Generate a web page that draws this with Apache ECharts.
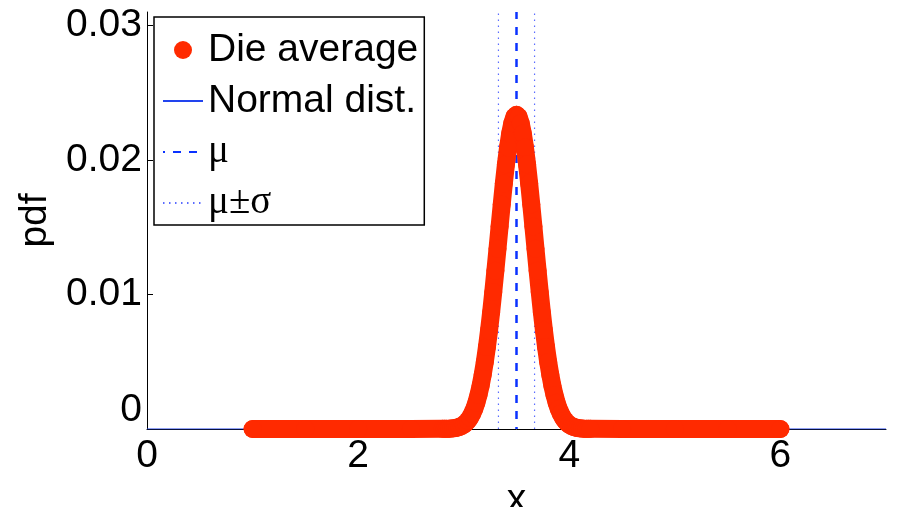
<!DOCTYPE html>
<html>
<head>
<meta charset="utf-8">
<script src="https://cdn.jsdelivr.net/npm/echarts@6/dist/echarts.min.js"></script>
<style>
  html, body { margin: 0; padding: 0; background: #fff; }
  #chart { width: 901px; height: 507px; }
</style>
</head>
<body>
<div id="chart"></div>
<script>
// Average of 100 die rolls: probability of each average value
const dieX = [1.0, 1.5, 2.0, 2.5,
  2.8, 2.82, 2.84, 2.86, 2.88, 2.9, 2.92, 2.94, 2.96, 2.98,
  3.0, 3.02, 3.04, 3.06, 3.08, 3.1, 3.12, 3.14, 3.16, 3.18,
  3.2, 3.22, 3.24, 3.26, 3.28, 3.3, 3.32, 3.34, 3.36, 3.38,
  3.4, 3.42, 3.44, 3.46, 3.48, 3.5, 3.52, 3.54, 3.56, 3.58,
  3.6, 3.62, 3.64, 3.66, 3.68, 3.7, 3.72, 3.74, 3.76, 3.78,
  3.8, 3.82, 3.84, 3.86, 3.88, 3.9, 3.92, 3.94, 3.96, 3.98,
  4.0, 4.02, 4.04, 4.06, 4.08, 4.1, 4.12, 4.14, 4.16, 4.18, 4.2,
  4.5, 5.0, 5.5, 6.0];
const dieAverage = [0, 0, 0, 0,
  0.00001, 0.00001, 0.00001, 0.00002, 0.00003, 0.00005, 0.00007, 0.00011, 0.00016, 0.00023,
  0.00032, 0.00045, 0.00062, 0.00085, 0.00114, 0.00150, 0.00196, 0.00253, 0.00322, 0.00404,
  0.00499, 0.00609, 0.00733, 0.00870, 0.01019, 0.01177, 0.01340, 0.01506, 0.01669, 0.01825,
  0.01968, 0.02093, 0.02196, 0.02273, 0.02320, 0.02336, 0.02320, 0.02273, 0.02196, 0.02093,
  0.01968, 0.01825, 0.01669, 0.01506, 0.01340, 0.01177, 0.01019, 0.00870, 0.00733, 0.00609,
  0.00499, 0.00404, 0.00322, 0.00253, 0.00196, 0.00150, 0.00114, 0.00085, 0.00062, 0.00045,
  0.00032, 0.00023, 0.00016, 0.00011, 0.00007, 0.00005, 0.00003, 0.00002, 0.00001, 0.00001, 0.00001,
  0, 0, 0, 0];

// Matching normal density (scaled to the 0.01 bin width)
const normalX = [0.0, 2.8, 2.85, 2.9, 2.95, 3.0, 3.05, 3.1, 3.15, 3.2, 3.25, 3.3, 3.35, 3.4, 3.45,
  3.5, 3.55, 3.6, 3.65, 3.7, 3.75, 3.8, 3.85, 3.9, 3.95, 4.0, 4.05, 4.1, 4.15, 4.2, 7.0];
const normalPdf = [0, 0.00001, 0.00002, 0.00005, 0.00013, 0.00032, 0.00073, 0.00150, 0.00286, 0.00499,
  0.00800, 0.01177, 0.01588, 0.01968, 0.02238, 0.02336, 0.02238, 0.01968, 0.01588, 0.01177,
  0.00800, 0.00499, 0.00286, 0.00150, 0.00073, 0.00032, 0.00013, 0.00005, 0.00002, 0.00001, 0];

const mu = 3.5;
const sigma = 0.171;
const xTicks = [0, 2, 4, 6];
const yTicks = [0, 0.01, 0.02, 0.03];
const yMax = 0.031;

const FONT = 'Liberation Sans';
const RED = '#ff2a00';

const chart = echarts.init(document.getElementById('chart'), null, { renderer: 'canvas' });

function vline(x) { return [[x, 0], [x, yMax]]; }

// line-only legend entries: hide the marker drawn over the line sample
const lineOnly = { opacity: 0 };

chart.setOption({
  animation: false,
  backgroundColor: '#fff',
  textStyle: { fontFamily: FONT },
  grid: { left: 147, right: 15, top: 12, bottom: 78, outerBoundsMode: 'none', containLabel: false },
  xAxis: {
    type: 'value', min: 0, max: 7, interval: 2,
    name: 'x', nameLocation: 'middle', nameGap: 41,
    nameTextStyle: { fontSize: 39, color: '#000', fontFamily: FONT },
    axisLine: { show: true, onZero: false, lineStyle: { color: '#000', width: 1 } },
    axisTick: { show: true, inside: true, length: 6, customValues: xTicks, lineStyle: { color: '#000' } },
    axisLabel: { customValues: xTicks, fontSize: 39, color: '#000', margin: 8, fontFamily: FONT },
    splitLine: { show: false }
  },
  yAxis: {
    type: 'value', min: 0, max: yMax, interval: 0.01,
    name: 'pdf', nameLocation: 'middle', nameGap: 80,
    nameTextStyle: { fontSize: 39, color: '#000', fontFamily: FONT },
    axisLine: { show: true, lineStyle: { color: '#000', width: 1 } },
    axisTick: { show: true, inside: true, length: 6, customValues: yTicks, lineStyle: { color: '#000' } },
    axisLabel: {
      customValues: yTicks, fontSize: 39, color: '#000', margin: 5, fontFamily: FONT,
      formatter: v => v === 0 ? '{z|0}' : String(v),
      rich: { z: { fontSize: 39, fontFamily: FONT, color: '#000', padding: [0, 0, 38, 0] } }
    },
    splitLine: { show: false }
  },
  legend: {
    orient: 'vertical', left: 154, top: 17,
    itemWidth: 40, itemHeight: 18, itemGap: 11, itemTextGap: 5,
    padding: [13, 6, 2, 8],
    borderColor: '#000', borderWidth: 1.5, backgroundColor: '#fff',
    textStyle: {
      fontSize: 39, lineHeight: 40, color: '#000', fontFamily: FONT,
      rich: { g: { fontSize: 39, lineHeight: 40, color: '#000', fontFamily: 'Liberation Serif' } }
    },
    formatter: name => name.charAt(0) === 'μ' ? '{g|' + name + '}' : name,
    data: [
      { name: 'Die average', icon: 'circle' },
      { name: 'Normal dist.', itemStyle: lineOnly },
      { name: 'μ', itemStyle: lineOnly },
      { name: 'μ±σ', itemStyle: lineOnly }
    ]
  },
  series: [
    {
      name: 'Normal dist.', type: 'line', z: 2, symbol: 'none',
      data: normalX.map((x, i) => [x, normalPdf[i]]),
      lineStyle: { color: '#2244ee', width: 1.2 },
      itemStyle: { color: '#2244ee' }
    },
    {
      name: 'μ', type: 'line', z: 3, symbol: 'none',
      data: vline(mu),
      lineStyle: { color: '#0a32ff', width: 2.5, type: [8, 8], dashOffset: 6 },
      itemStyle: { color: '#0a32ff' }
    },
    {
      name: 'μ±σ', type: 'line', z: 3, symbol: 'none',
      data: vline(mu - sigma),
      lineStyle: { color: '#5a6cff', width: 1.2, type: [1.5, 4.5] },
      itemStyle: { color: '#5a6cff' }
    },
    {
      name: 'μ±σ', type: 'line', z: 3, symbol: 'none',
      data: vline(mu + sigma),
      lineStyle: { color: '#5a6cff', width: 1.2, type: [1.5, 4.5] },
      itemStyle: { color: '#5a6cff' }
    },
    {
      name: 'Die average', type: 'line', z: 5, clip: false,
      symbol: 'circle', symbolSize: 18, showAllSymbol: true,
      data: dieX.map((x, i) => [x, dieAverage[i]]),
      lineStyle: { color: RED, width: 18, cap: 'round', join: 'round' },
      itemStyle: { color: RED, borderWidth: 0 }
    }
  ]
});
</script>
</body>
</html>
